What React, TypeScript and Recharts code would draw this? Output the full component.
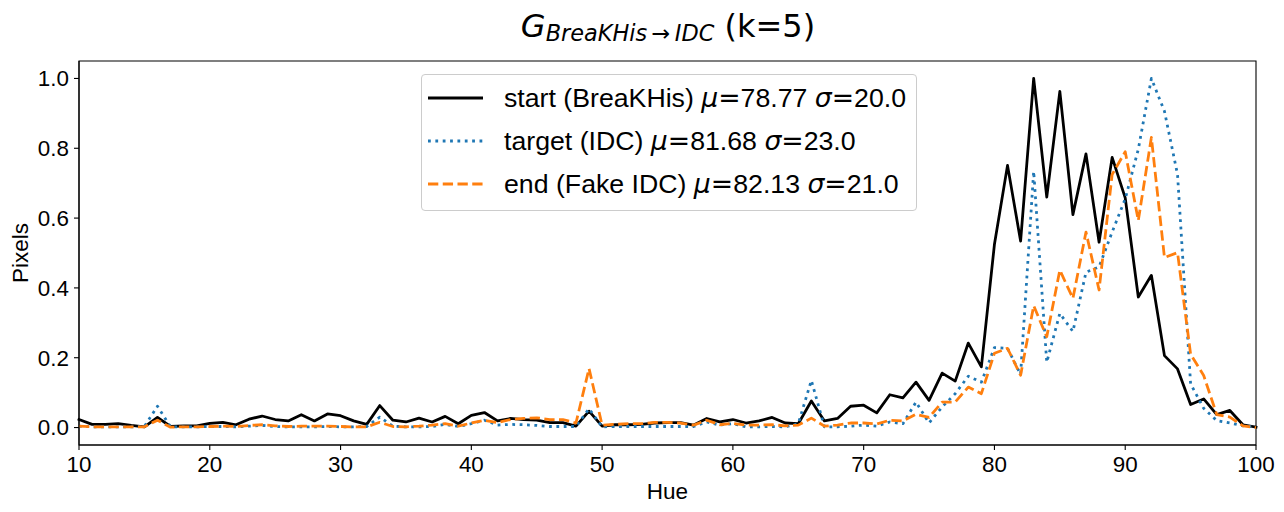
import React from 'react';
import { LineChart, Line, XAxis, YAxis, Legend, ReferenceArea } from 'recharts';

// Hue histograms: start image, target domain, and generated image
const FONT = '"Liberation Sans", Arial, Helvetica, sans-serif';
const MATH = '"DejaVu Sans", sans-serif';

const hue = [
  10, 11, 12, 13, 14, 15, 16, 17, 18, 19, 20, 21, 22, 23, 24, 25, 26, 27, 28, 29,
  30, 31, 32, 33, 34, 35, 36, 37, 38, 39, 40, 41, 42, 43, 44, 45, 46, 47, 48, 49,
  50, 51, 52, 53, 54, 55, 56, 57, 58, 59, 60, 61, 62, 63, 64, 65, 66, 67, 68, 69,
  70, 71, 72, 73, 74, 75, 76, 77, 78, 79, 80, 81, 82, 83, 84, 85, 86, 87, 88, 89,
  90, 91, 92, 93, 94, 95, 96, 97, 98, 99, 100,
];

const startBreaKHis = [
  0.023, 0.009, 0.009, 0.011, 0.006, 0.002, 0.029, 0.003, 0.005, 0.005,
  0.012, 0.015, 0.008, 0.024, 0.033, 0.023, 0.019, 0.037, 0.019, 0.039,
  0.034, 0.019, 0.009, 0.063, 0.021, 0.016, 0.027, 0.016, 0.032, 0.011,
  0.035, 0.043, 0.019, 0.026, 0.023, 0.021, 0.014, 0.014, 0.004, 0.047,
  0.004, 0.008, 0.008, 0.009, 0.013, 0.014, 0.014, 0.007, 0.026, 0.016,
  0.023, 0.013, 0.019, 0.029, 0.013, 0.011, 0.076, 0.019, 0.026, 0.061,
  0.064, 0.042, 0.094, 0.085, 0.13, 0.078, 0.156, 0.133, 0.242, 0.174,
  0.525, 0.751, 0.534, 1.0, 0.66, 0.963, 0.61, 0.784, 0.531, 0.774,
  0.658, 0.374, 0.436, 0.206, 0.168, 0.066, 0.082, 0.037, 0.049, 0.008,
  0.001,
];

const targetIDC = [
  0.004, 0.002, 0.002, 0.002, 0.002, 0.003, 0.061, 0.002, 0.002, 0.002,
  0.003, 0.003, 0.002, 0.004, 0.006, 0.003, 0.002, 0.002, 0.002, 0.003,
  0.002, 0.002, 0.003, 0.03, 0.004, 0.002, 0.002, 0.003, 0.009, 0.003,
  0.011, 0.021, 0.007, 0.009, 0.008, 0.006, 0.003, 0.003, 0.003, 0.054,
  0.002, 0.003, 0.003, 0.003, 0.003, 0.003, 0.003, 0.003, 0.016, 0.007,
  0.011, 0.002, 0.002, 0.003, 0.002, 0.011, 0.135, 0.002, 0.002, 0.004,
  0.007, 0.004, 0.016, 0.011, 0.073, 0.013, 0.059, 0.097, 0.147, 0.13,
  0.229, 0.227, 0.152, 0.734, 0.187, 0.327, 0.275, 0.445, 0.46, 0.56,
  0.655, 0.797, 1.0, 0.906, 0.725, 0.125, 0.055, 0.02, 0.013, 0.005,
  0.001,
];

const endFakeIDC = [
  0.004, 0.002, 0.002, 0.002, 0.002, 0.002, 0.021, 0.001, 0.002, 0.002,
  0.003, 0.004, 0.003, 0.006, 0.008, 0.005, 0.003, 0.004, 0.004, 0.004,
  0.003, 0.002, 0.002, 0.015, 0.003, 0.002, 0.004, 0.007, 0.011, 0.004,
  0.013, 0.021, 0.014, 0.023, 0.026, 0.028, 0.023, 0.023, 0.013, 0.169,
  0.007, 0.009, 0.011, 0.011, 0.015, 0.015, 0.013, 0.007, 0.021, 0.008,
  0.012, 0.007, 0.007, 0.008, 0.005, 0.007, 0.027, 0.004, 0.007, 0.013,
  0.013, 0.01, 0.021, 0.019, 0.038, 0.029, 0.073, 0.073, 0.116, 0.097,
  0.213, 0.227, 0.15, 0.349, 0.26, 0.451, 0.37, 0.56, 0.394, 0.725,
  0.79, 0.593, 0.831, 0.487, 0.501, 0.21, 0.149, 0.037, 0.03, 0.005,
  0.0,
];

const xTicks = [10, 20, 30, 40, 50, 60, 70, 80, 90, 100];
const yTicks = [0, 0.2, 0.4, 0.6, 0.8, 1.0];

const LW = 2.78;

const SERIES = [
  { key: 'start', color: '#000000', dash: undefined, cap: 'square', label: 'start (BreaKHis) ', mu: '78.77', sigma: '20.0' },
  { key: 'target', color: '#1f77b4', dash: '2.78 4.58', cap: 'butt', label: 'target (IDC) ', mu: '81.68', sigma: '23.0' },
  { key: 'end', color: '#ff7f0e', dash: '10.3 4.45', cap: 'butt', label: 'end (Fake IDC) ', mu: '82.13', sigma: '21.0' },
] as const;

const data = hue.map((h, i) => ({
  hue: h,
  start: startBreaKHis[i],
  target: targetIDC[i],
  end: endFakeIDC[i],
}));

function LegendBox() {
  const mathStyle = { fontFamily: MATH, fontStyle: 'italic' as const };
  const eqStyle = { fontFamily: MATH };
  return (
    <div
      style={{
        width: 496,
        height: 137,
        boxSizing: 'border-box',
        border: '1px solid #cccccc',
        borderRadius: 4,
        background: 'rgba(255,255,255,0.8)',
        position: 'relative',
        fontFamily: FONT,
        fontSize: 26.7,
        color: '#000',
      }}
    >
      {SERIES.map((s, i) => (
        <div
          key={s.key}
          style={{
            position: 'absolute',
            left: 0,
            top: 1 + i * 43,
            height: 43,
            display: 'flex',
            alignItems: 'center',
            whiteSpace: 'nowrap',
          }}
        >
          <svg width={55} height={10} style={{ marginLeft: 6, flex: 'none' }}>
            <line
              x1={0}
              x2={55}
              y1={5}
              y2={5}
              stroke={s.color}
              strokeWidth={LW}
              strokeDasharray={s.dash}
              strokeLinecap="butt"
            />
          </svg>
          <span style={{ marginLeft: 21 }}>
            {s.label}
            <span style={mathStyle}>μ</span>
            <span style={eqStyle}>=</span>
            {s.mu}{' '}
            <span style={mathStyle}>σ</span>
            <span style={eqStyle}>=</span>
            {s.sigma}
          </span>
        </div>
      ))}
    </div>
  );
}

function PixelsLabel(props: any) {
  const vb = props.viewBox ?? { x: 0, y: 61, width: 79, height: 384 };
  const cx = vb.x + 27.8;
  const cy = vb.y + vb.height / 2;
  return (
    <text
      x={cx}
      y={cy}
      transform={`rotate(-90, ${cx}, ${cy})`}
      textAnchor="middle"
      fill="#000"
      fontSize={22.5}
      fontFamily={FONT}
    >
      Pixels
    </text>
  );
}

function HueLabel(props: any) {
  const vb = props.viewBox ?? { x: 79, y: 445, width: 1177, height: 67 };
  return (
    <text
      x={vb.x + vb.width / 2}
      y={498.5}
      textAnchor="middle"
      fill="#000"
      fontSize={22.5}
      fontFamily={FONT}
    >
      Hue
    </text>
  );
}

export default function App() {
  const tickStyle = { fill: '#000', fontSize: 22.4, fontFamily: FONT };
  return (
    <div style={{ position: 'relative', width: 1284, height: 512, background: '#fff' }}>
      <style>{`body { margin: 0; }`}</style>
      <LineChart
        width={1284}
        height={512}
        data={data}
        margin={{ top: 61, right: 28, bottom: 0, left: 0 }}
      >
        <XAxis
          dataKey="hue"
          type="number"
          domain={[10, 100]}
          ticks={xTicks}
          interval={0}
          height={67}
          tickSize={5}
          tickMargin={6}
          tick={tickStyle}
          stroke="#000"
          axisLine={{ stroke: '#000', strokeWidth: 1.1 }}
          tickLine={{ stroke: '#000', strokeWidth: 1.1 }}
          label={<HueLabel />}
        />
        <YAxis
          type="number"
          domain={[-0.05, 1.05]}
          ticks={yTicks}
          interval={0}
          allowDataOverflow
          width={79}
          tickSize={5}
          tickMargin={5}
          tick={tickStyle}
          tickFormatter={(v: number) => v.toFixed(1)}
          stroke="#000"
          axisLine={{ stroke: '#000', strokeWidth: 1.1 }}
          tickLine={{ stroke: '#000', strokeWidth: 1.1 }}
          label={<PixelsLabel />}
        />
        {SERIES.map((s) => (
          <Line
            key={s.key}
            dataKey={s.key}
            type="linear"
            stroke={s.color}
            strokeWidth={LW}
            strokeDasharray={s.dash}
            strokeLinecap={s.cap as any}
            strokeLinejoin="round"
            dot={false}
            activeDot={false}
            isAnimationActive={false}
          />
        ))}
        <ReferenceArea
          x1={10}
          x2={100}
          y1={-0.05}
          y2={1.05}
          fill="none"
          fillOpacity={0}
          stroke="#000"
          strokeWidth={1.1}
          ifOverflow="visible"
        />
        <Legend
          layout="horizontal"
          verticalAlign="middle"
          align="center"
          content={() => <LegendBox />}
          wrapperStyle={{ left: 421, top: 74, width: 496, height: 137 }}
        />
      </LineChart>
      <svg
        width={1284}
        height={60}
        style={{ position: 'absolute', left: 0, top: 0, pointerEvents: 'none' }}
      >
        <text x={668} y={36.5} textAnchor="middle" fontFamily={MATH} fontSize={32} fill="#000">
          <tspan fontStyle="italic">G</tspan>
          <tspan fontStyle="italic" fontSize={22.4} dy={4.5}>
            BreaKHis
          </tspan>
          <tspan fontSize={22.4}>{'\u2009→\u2009'}</tspan>
          <tspan fontStyle="italic" fontSize={22.4}>
            IDC
          </tspan>
          <tspan dy={-4.5}>{'\u00A0(k=5)'}</tspan>
        </text>
      </svg>
    </div>
  );
}
